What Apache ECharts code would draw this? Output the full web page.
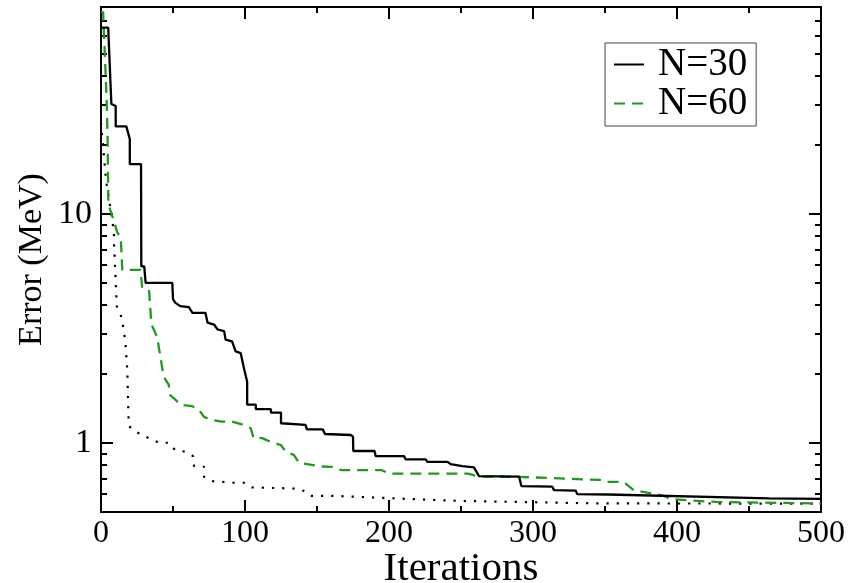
<!DOCTYPE html>
<html>
<head>
<meta charset="utf-8">
<script src="https://cdn.jsdelivr.net/npm/echarts@6/dist/echarts.min.js"></script>
<style>html,body{margin:0;padding:0;background:#fff;}#c{width:864px;height:583px;}</style>
</head>
<body>
<div id="c"></div>
<script>
// ---- data ----
const n30Iter = [0, 5, 7.2, 10.2, 10.2, 17.6, 20, 20, 27.8, 28, 30, 31, 49.5, 50, 51.5, 55, 61, 63.5, 72.5, 74, 78.5, 81, 85.5, 86.5, 91, 93.5, 97, 99.5, 101.5, 101.5, 107.5, 107.5, 118, 118, 125, 125, 142, 143, 154, 155.5, 173.5, 175, 175.2, 190, 190.7, 210.4, 211.6, 225.5, 226.6, 240.5, 242.8, 250.9, 259, 262.5, 290.3, 292, 313.4, 314.6, 329.6, 330.8, 352, 352.8, 464, 500];
const n30Err  = [65, 65, 30.2, 29.6, 24.1, 24.1, 21.2, 16.5, 16.5, 5.9, 5.9, 5.0, 5.0, 4.25, 4.1, 3.96, 3.92, 3.7, 3.7, 3.35, 3.29, 3.13, 3.08, 2.83, 2.78, 2.51, 2.47, 2.09, 1.85, 1.47, 1.47, 1.405, 1.405, 1.358, 1.358, 1.22, 1.2, 1.148, 1.148, 1.095, 1.084, 1.066, 0.923, 0.923, 0.877, 0.877, 0.848, 0.848, 0.828, 0.828, 0.809, 0.793, 0.783, 0.717, 0.714, 0.648, 0.645, 0.623, 0.62, 0.598, 0.596, 0.586, 0.573, 0.57];

const n60Iter = [0, 1.5, 2.3, 3.9, 4.6, 5.1, 9, 10.2, 11.3, 13.7, 14.8, 27.5, 28.5, 33.3, 35, 39, 43.5, 47, 48, 52, 55, 63, 68, 71.5, 77, 84, 91, 99, 104, 106, 112, 118, 125, 128, 134, 137.5, 153, 160, 167, 195, 200, 255, 262, 290, 346, 350, 363, 370, 384, 390, 396, 412, 427, 434, 500];
const n60Err  = [76, 76, 75, 31.6, 21.2, 11.0, 9.3, 9.2, 8.3, 7.9, 5.7, 5.7, 4.8, 4.7, 3.3, 2.9, 1.95, 1.8, 1.62, 1.54, 1.47, 1.45, 1.40, 1.30, 1.26, 1.24, 1.24, 1.2, 1.16, 1.05, 1.05, 1.01, 0.98, 0.92, 0.886, 0.82, 0.79, 0.787, 0.761, 0.761, 0.735, 0.735, 0.714, 0.712, 0.69, 0.677, 0.677, 0.622, 0.60, 0.59, 0.57, 0.56, 0.553, 0.552, 0.545];

const dotIter = [0, 2, 3.5, 5.5, 7, 8, 9, 9, 10.4, 11, 14, 14.6, 16, 17, 18.3, 19, 19.4, 22.9, 28.7, 34.5, 40.3, 47.2, 51.4, 58.8, 63.9, 64.6, 71.5, 71.5, 77.3, 92.4, 99.3, 105, 134, 139.8, 145.6, 160.6, 197.7, 204.6, 248.6, 345.8, 500];
const dotErr  = [25, 18, 14, 11.6, 10.2, 9.2, 8.3, 7.6, 4.7, 3.95, 3.57, 3.46, 3.03, 2.74, 2.05, 1.35, 1.187, 1.132, 1.084, 1.041, 1.003, 1.003, 0.932, 0.916, 0.877, 0.793, 0.788, 0.712, 0.682, 0.671, 0.671, 0.64, 0.633, 0.623, 0.588, 0.588, 0.576, 0.573, 0.559, 0.545, 0.544];

const xTicks = [0, 100, 200, 300, 400, 500];
const yMajor = [1, 10];
const yMinor = [0.6, 0.7, 0.8, 0.9, 2, 3, 4, 5, 6, 7, 8, 9, 20, 30, 40, 50, 60, 70];

const zip = (a, b) => a.map((v, i) => [v, b[i]]);

const FONT = 'Liberation Serif';
const chart = echarts.init(document.getElementById('c'), null, {renderer: 'canvas'});

const yBase = (pos, showLine, ticks, len, labels) => ({
  type: 'log', logBase: 10, min: 0.5, max: 80, position: pos,
  splitLine: {show: false},
  axisLine: {show: showLine, onZero: false, lineStyle: {color: '#000', width: 2}},
  axisTick: {show: true, inside: true, length: len, customValues: ticks, lineStyle: {color: '#000', width: 2}},
  axisLabel: labels ? {show: true, customValues: labels, formatter: v => String(v), fontFamily: FONT, fontSize: 34, color: '#000', margin: 9} : {show: false}
});

const y0 = yBase('left', true, yMajor, 12, yMajor);
y0.name = 'Error (MeV)';
y0.nameLocation = 'middle';
y0.nameGap = 52;
y0.nameMoveOverlap = false;
y0.nameTextStyle = {fontFamily: FONT, fontSize: 34, color: '#000'};

const xBase = (pos, labels) => ({
  type: 'value', min: 0, max: 500, interval: 100, position: pos,
  splitLine: {show: false},
  axisLine: {show: true, onZero: false, lineStyle: {color: '#000', width: 2}},
  axisTick: {show: true, inside: true, length: 12, lineStyle: {color: '#000', width: 2}},
  minorTick: {show: true, splitNumber: 2, length: 6, lineStyle: {color: '#000', width: 2}},
  axisLabel: labels ? {show: true, fontFamily: FONT, fontSize: 32, color: '#000', margin: 6,
    customValues: xTicks} : {show: false}
});
const x0 = xBase('bottom', true);
x0.name = 'Iterations';
x0.nameLocation = 'middle';
x0.nameGap = 37;
x0.nameMoveOverlap = false;
x0.nameTextStyle = {fontFamily: FONT, fontSize: 41, color: '#000', verticalAlign: 'top'};

chart.setOption({
  animation: false,
  backgroundColor: '#fff',
  grid: {left: 101, right: 43, top: 7, bottom: 71, containLabel: false, outerBoundsMode: 'none'},
  xAxis: [x0, xBase('top', false)],
  yAxis: [y0, yBase('left', false, yMinor, 6, null), yBase('right', true, yMajor, 12, null), yBase('right', false, yMinor, 6, null)],
  legend: {
    data: ['N=30', 'N=60'], orient: 'vertical', left: 605, top: 43,
    padding: [2, 9, 3, 8], itemWidth: 30, itemHeight: 14, itemGap: 0,
    borderColor: '#444', borderWidth: 1, backgroundColor: '#fff',
    itemStyle: {opacity: 0, borderWidth: 0},
    textStyle: {fontFamily: FONT, fontSize: 39, color: '#000', lineHeight: 37, padding: [0, 0, 0, 9]}
  },
  series: [
    {name: 'N=30', type: 'line', data: zip(n30Iter, n30Err), symbol: 'none', showSymbol: false,
     lineStyle: {color: '#000', width: 2.3}, itemStyle: {color: '#000'}, z: 3},
    {name: 'N=60', type: 'line', data: zip(n60Iter, n60Err), symbol: 'none', showSymbol: false,
     lineStyle: {color: '#1f9a1f', width: 2.3, type: [11, 7]}, itemStyle: {color: '#1f9a1f'}, z: 2},
    {name: 'reference', type: 'line', data: zip(dotIter, dotErr), symbol: 'none', showSymbol: false,
     lineStyle: {color: '#000', width: 2.2, type: [2.2, 8]}, itemStyle: {color: '#000'}, z: 1}
  ]
});
</script>
</body>
</html>
